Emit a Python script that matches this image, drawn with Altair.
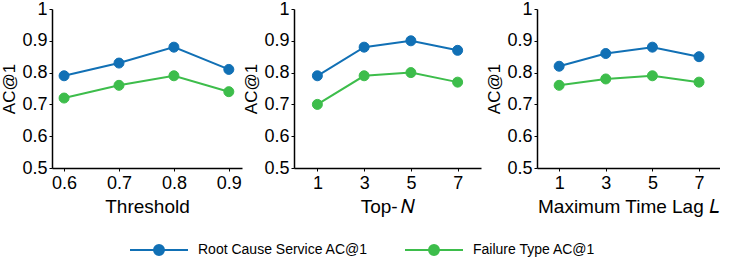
import altair as alt
import pandas as pd

# Sensitivity of AC@1 to three hyper-parameters
threshold = [0.6, 0.7, 0.8, 0.9]
threshold_rcs = [0.79, 0.83, 0.88, 0.81]
threshold_ft = [0.72, 0.76, 0.79, 0.74]

top_n = [1, 3, 5, 7]
top_n_rcs = [0.79, 0.88, 0.90, 0.87]
top_n_ft = [0.70, 0.79, 0.80, 0.77]

time_lag = [1, 3, 5, 7]
time_lag_rcs = [0.82, 0.86, 0.88, 0.85]
time_lag_ft = [0.76, 0.78, 0.79, 0.77]

series_names = ["Root Cause Service AC@1", "Failure Type AC@1"]
series_colors = ["#1170b5", "#3dbd4b"]
y_ticks = [0.5, 0.6, 0.7, 0.8, 0.9, 1.0]

FONT = "Liberation Sans"

# line-with-marker legend glyph
r = 0.172
legend_path = f"M-1,0L1,0M{r},0A{r},{r},0,1,1,-{r},0A{r},{r},0,1,1,{r},0Z"


def long_table(xs, rcs, ft):
    rows = []
    for x, a, b in zip(xs, rcs, ft):
        rows.append({"x": x, "value": a, "series": series_names[0]})
        rows.append({"x": x, "value": b, "series": series_names[1]})
    return pd.DataFrame(rows)


def make_legend():
    return alt.Legend(
        title=None,
        orient="none",
        direction="horizontal",
        legendX=77,
        legendY=211,
        symbolType=legend_path,
        symbolSize=3364,
        symbolStrokeWidth=2,
        labelFont=FONT,
        labelFontSize=14,
        labelColor="black",
        labelOffset=9,
        labelLimit=0,
        columnPadding=33,
    )


def panel(df, x_title, x_domain, x_values, width):
    x = alt.X(
        "x:Q",
        scale=alt.Scale(domain=x_domain, nice=False, zero=False),
        axis=alt.Axis(values=x_values, title=x_title, format="~g"),
    )
    y = alt.Y(
        "value:Q",
        scale=alt.Scale(domain=[0.5, 1.0], nice=False, zero=False),
        axis=alt.Axis(values=y_ticks, title="AC@1", format="~g"),
    )
    color_scale = alt.Scale(domain=series_names, range=series_colors)
    lines = alt.Chart(df).mark_line(strokeWidth=2).encode(
        x=x, y=y,
        stroke=alt.Stroke("series:N", scale=color_scale, legend=make_legend()),
    )
    points = alt.Chart(df).mark_point(filled=True, size=100, opacity=1, strokeWidth=1).encode(
        x=x, y=y,
        fill=alt.Fill("series:N", scale=color_scale, legend=make_legend()),
        stroke=alt.Stroke("series:N", scale=color_scale, legend=make_legend()),
    )
    return alt.layer(lines, points).properties(width=width, height=159)


p1 = panel(long_table(threshold, threshold_rcs, threshold_ft), "Threshold", [0.578, 0.924], threshold, 190)
p2 = panel(long_table(top_n, top_n_rcs, top_n_ft), "Top-\u2009\U0001D441", [0.0, 8.0], top_n, 187)
p3 = panel(long_table(time_lag, time_lag_rcs, time_lag_ft), "Maximum Time Lag \U0001D43F", [0.05, 7.9], time_lag, 183)

chart = (
    alt.hconcat(alt.hconcat(p1, p2, spacing=0), p3, spacing=4)
    .properties(padding={"left": 0, "top": 0, "right": 0, "bottom": 0})
    .configure_view(stroke=None)
    .configure_axis(
        grid=False,
        domainColor="black",
        domainWidth=1.5,
        tickColor="black",
        tickSize=3,
        labelFont=FONT,
        labelFontSize=18,
        labelColor="black",
        labelPadding=2,
        titleFont=FONT,
        titleFontSize=19,
        titleFontWeight="normal",
        titleColor="black",
    )
    .configure_axisY(titlePadding=3, titleFontSize=17)
    .configure_axisX(titlePadding=5, labelPadding=3)
)

chart.save("out.html", embed_options={"renderer": "svg", "actions": False})
